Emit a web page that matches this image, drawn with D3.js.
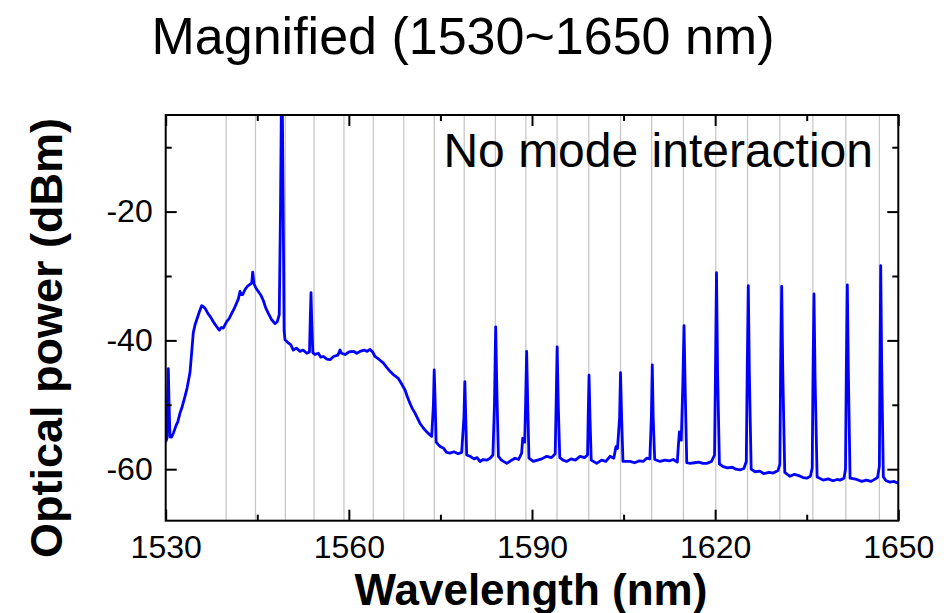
<!DOCTYPE html>
<html>
<head>
<meta charset="utf-8">
<script src="https://cdn.jsdelivr.net/npm/d3@7/dist/d3.min.js"></script>
<style>
  html, body { margin: 0; padding: 0; background: #fff; }
  svg { display: block; font-family: "Liberation Sans", Arial, sans-serif; }
</style>
</head>
<body>
<svg id="chart" width="950" height="613"></svg>
<script>
// Optical spectrum, wavelength (nm) vs power (dBm)
const spectrum = [
  [1530.00,-55.8],[1530.20,-55.2],[1530.33,-48.0],[1530.43,-44.4],[1530.53,-49.0],[1530.70,-55.0],
  [1530.98,-55.0],[1531.30,-54.3],[1531.70,-53.2],[1532.00,-52.6],[1532.34,-51.3],[1532.70,-50.3],
  [1533.16,-48.7],[1533.50,-47.4],[1533.98,-45.0],[1534.20,-42.5],[1534.52,-38.8],[1534.80,-37.6],
  [1535.08,-36.8],[1535.50,-35.6],[1535.90,-34.6],[1536.20,-34.8],[1536.44,-35.0],[1536.90,-35.8],
  [1537.30,-36.3],[1537.80,-37.1],[1538.30,-37.8],[1538.78,-38.4],[1539.10,-38.0],[1539.43,-38.1],
  [1539.99,-37.1],[1540.40,-36.6],[1540.81,-35.8],[1541.30,-34.9],[1541.89,-33.6],[1542.17,-32.4],
  [1542.40,-32.9],[1542.61,-32.9],[1543.00,-32.1],[1543.37,-31.6],[1543.80,-31.3],[1544.09,-31.1],
  [1544.25,-29.4],[1544.46,-31.2],[1544.80,-31.9],[1545.17,-32.4],[1545.60,-33.0],[1545.99,-33.8],
  [1546.40,-35.0],[1546.81,-35.8],[1547.36,-36.8],[1547.90,-37.4],[1548.28,-37.1],[1548.60,-36.0],
  [1548.80,-20.0],[1548.95,-3.0],[1549.10,-3.0],[1549.25,-20.0],[1549.40,-38.5],[1549.54,-39.9],
  [1550.08,-40.4],[1550.50,-40.7],[1550.90,-41.5],[1551.40,-41.2],[1552.00,-41.7],[1552.50,-41.5],
  [1553.10,-42.0],[1553.55,-41.8],[1553.70,-36.0],[1553.80,-32.6],[1553.92,-37.0],[1554.10,-41.9],
  [1554.45,-42.2],[1555.00,-42.0],[1555.40,-42.6],[1555.82,-42.5],[1556.40,-42.9],[1556.91,-43.0],
  [1557.50,-42.5],[1558.20,-42.3],[1558.55,-41.5],[1558.80,-42.0],[1559.37,-42.2],[1560.00,-41.8],
  [1560.73,-41.7],[1561.30,-42.0],[1561.83,-41.7],[1562.50,-41.5],[1563.00,-41.7],[1563.47,-41.4],
  [1563.90,-41.8],[1564.29,-42.5],[1565.00,-43.0],[1565.64,-43.5],[1566.20,-44.2],[1566.74,-44.8],
  [1567.40,-45.4],[1568.10,-45.9],[1568.60,-46.7],[1569.20,-47.7],[1569.60,-48.8],[1570.02,-49.8],
  [1570.40,-50.6],[1570.84,-51.3],[1571.20,-52.0],[1571.66,-52.9],[1572.20,-53.6],[1572.75,-54.2],
  [1573.20,-54.6],[1573.57,-54.9],[1573.85,-50.0],[1573.98,-44.6],[1574.12,-49.0],[1574.30,-55.8],
  [1574.65,-56.2],[1575.00,-56.5],[1575.47,-56.7],[1576.00,-57.4],[1576.57,-57.5],[1577.20,-57.3],
  [1577.90,-57.6],[1578.48,-57.4],[1578.85,-52.0],[1579.00,-46.4],[1579.15,-52.0],[1579.30,-57.8],
  [1579.84,-58.0],[1580.50,-58.4],[1581.00,-58.2],[1581.48,-58.8],[1582.00,-58.5],[1582.60,-58.6],
  [1583.12,-58.3],[1583.60,-57.8],[1583.85,-50.0],[1584.05,-37.9],[1584.25,-48.0],[1584.50,-58.0],
  [1585.00,-58.6],[1585.86,-59.1],[1586.50,-58.7],[1587.22,-58.3],[1587.80,-58.5],[1588.30,-57.5],
  [1588.48,-55.2],[1588.80,-55.8],[1588.95,-50.0],[1589.12,-41.7],[1589.30,-50.0],[1589.50,-58.3],
  [1590.21,-58.8],[1590.90,-58.6],[1591.60,-58.4],[1592.41,-58.0],[1593.20,-58.2],[1593.80,-57.6],
  [1593.95,-50.0],[1594.12,-41.0],[1594.30,-50.0],[1594.55,-58.2],[1595.10,-58.6],[1595.68,-58.8],
  [1596.40,-58.4],[1597.10,-58.6],[1597.86,-58.0],[1598.60,-58.2],[1599.10,-57.8],[1599.20,-52.0],
  [1599.34,-45.4],[1599.50,-52.0],[1599.70,-58.6],[1600.60,-59.1],[1601.40,-58.6],[1602.10,-58.8],
  [1602.78,-58.0],[1603.40,-58.3],[1603.75,-56.5],[1604.00,-56.8],[1604.35,-52.0],[1604.50,-45.0],
  [1604.68,-52.0],[1604.90,-58.8],[1606.05,-58.8],[1606.80,-59.0],[1607.60,-58.7],[1608.20,-58.8],
  [1608.79,-58.3],[1609.30,-58.4],[1609.55,-52.0],[1609.70,-43.8],[1609.85,-52.0],[1610.10,-58.5],
  [1610.97,-58.8],[1611.80,-58.6],[1612.50,-58.7],[1613.15,-58.5],[1613.80,-58.9],[1614.00,-56.0],
  [1614.15,-54.2],[1614.45,-55.5],[1614.70,-47.0],[1614.90,-37.7],[1615.10,-48.0],[1615.35,-59.0],
  [1615.88,-59.1],[1616.60,-59.0],[1617.30,-58.9],[1618.00,-59.1],[1618.62,-59.1],[1619.40,-58.8],
  [1619.90,-57.8],[1620.05,-45.0],[1620.22,-29.5],[1620.40,-45.0],[1620.70,-59.2],[1621.33,-59.6],
  [1622.00,-59.8],[1622.80,-59.7],[1623.40,-60.0],[1624.07,-60.1],[1624.70,-59.9],[1625.10,-58.8],
  [1625.25,-45.0],[1625.43,-31.5],[1625.60,-45.0],[1625.90,-60.0],[1626.53,-60.4],[1627.30,-60.3],
  [1628.00,-60.7],[1628.80,-60.5],[1629.53,-60.6],[1630.30,-60.2],[1630.60,-59.2],[1630.72,-45.0],
  [1630.90,-31.6],[1631.08,-45.0],[1631.40,-60.5],[1632.26,-61.1],[1633.00,-60.8],[1633.70,-61.0],
  [1634.40,-61.3],[1635.00,-61.4],[1635.60,-61.1],[1635.90,-59.8],[1636.02,-46.0],[1636.19,-32.8],
  [1636.37,-46.0],[1636.70,-61.2],[1637.71,-61.7],[1638.50,-61.5],[1639.30,-61.8],[1640.00,-61.6],
  [1640.45,-61.7],[1641.10,-61.4],[1641.35,-60.0],[1641.48,-45.0],[1641.65,-31.4],[1641.82,-45.0],
  [1642.10,-61.4],[1643.19,-61.6],[1644.00,-61.9],[1644.80,-61.7],[1645.50,-61.9],[1645.90,-61.7],
  [1646.60,-61.3],[1646.90,-59.5],[1647.00,-44.0],[1647.12,-28.4],[1647.28,-44.0],[1647.55,-61.2],
  [1648.00,-61.8],[1648.65,-62.0],[1649.30,-61.9],[1649.96,-62.2]
];

// Vertical reference lines (comb grid), nm
const gridLines = [
  1539.9, 1544.7, 1549.6, 1554.3, 1559.2, 1564.0, 1569.0, 1574.0, 1578.9, 1584.0, 1589.0,
  1594.1, 1599.3, 1604.5, 1609.6, 1614.8, 1620.1, 1625.3, 1630.6, 1636.0, 1641.4, 1646.9
];

const xMajorTicks = [1530, 1560, 1590, 1620, 1650];
const xMinorTicks = [1545, 1575, 1605, 1635];
const yMajorTicks = [-60, -40, -20];
const yMinorTicks = [-50, -30, -10];

const titleText = "Magnified (1530~1650 nm)";
const noteText = "No mode interaction";
const xTitle = "Wavelength (nm)";
const yTitle = "Optical power (dBm)";

const svg = d3.select("#chart");
const plotL = 165.7, plotR = 898.3, plotT = 115, plotB = 520.7;

const x = d3.scaleLinear().domain([1530, 1650]).range([plotL, plotR]);
const y = d3.scaleLinear().domain([-68, -5]).range([plotB, plotT]);

// plain hyphen-minus labels
const numLabel = d => String(d);

svg.append("defs").append("clipPath").attr("id", "plotClip")
  .append("rect").attr("x", plotL).attr("y", plotT)
  .attr("width", plotR - plotL).attr("height", plotB - plotT);

// grid
svg.append("g").selectAll("line").data(gridLines).join("line")
  .attr("x1", d => x(d)).attr("x2", d => x(d))
  .attr("y1", plotT).attr("y2", plotB)
  .attr("stroke", "#c8c8c8").attr("stroke-width", 1.3);

// spectrum trace
const line = d3.line().x(d => x(d[0])).y(d => y(d[1]));
svg.append("path").datum(spectrum)
  .attr("clip-path", "url(#plotClip)")
  .attr("d", line)
  .attr("fill", "none")
  .attr("stroke", "#0000ff")
  .attr("stroke-width", 2.8)
  .attr("stroke-linejoin", "round");

function styleAxis(g) {
  g.select(".domain").remove();
  g.selectAll(".tick line").attr("stroke", "#000").attr("stroke-width", 2);
  g.selectAll(".tick text").attr("fill", "#000")
    .style("font-family", "'Liberation Sans', Arial, sans-serif").style("font-size", "32px");
}

// bottom axis
svg.append("g").attr("transform", `translate(0,${plotB})`)
  .call(d3.axisBottom(x).tickValues(xMajorTicks).tickSize(-11).tickPadding(15).tickFormat(numLabel))
  .call(styleAxis);
svg.append("g").attr("transform", `translate(0,${plotB})`)
  .call(d3.axisBottom(x).tickValues(xMinorTicks).tickSize(-6).tickFormat(""))
  .call(styleAxis);
// top axis
svg.append("g").attr("transform", `translate(0,${plotT})`)
  .call(d3.axisTop(x).tickValues(xMajorTicks).tickSize(-11).tickFormat(""))
  .call(styleAxis);
svg.append("g").attr("transform", `translate(0,${plotT})`)
  .call(d3.axisTop(x).tickValues(xMinorTicks).tickSize(-6).tickFormat(""))
  .call(styleAxis);
// left axis
svg.append("g").attr("transform", `translate(${plotL},0)`)
  .call(d3.axisLeft(y).tickValues(yMajorTicks).tickSize(-11).tickPadding(13).tickFormat(numLabel))
  .call(styleAxis);
svg.append("g").attr("transform", `translate(${plotL},0)`)
  .call(d3.axisLeft(y).tickValues(yMinorTicks).tickSize(-6).tickFormat(""))
  .call(styleAxis);
// right axis
svg.append("g").attr("transform", `translate(${plotR},0)`)
  .call(d3.axisRight(y).tickValues(yMajorTicks).tickSize(-11).tickFormat(""))
  .call(styleAxis);
svg.append("g").attr("transform", `translate(${plotR},0)`)
  .call(d3.axisRight(y).tickValues(yMinorTicks).tickSize(-6).tickFormat(""))
  .call(styleAxis);

// frame
svg.append("rect")
  .attr("x", plotL).attr("y", plotT)
  .attr("width", plotR - plotL).attr("height", plotB - plotT)
  .attr("fill", "none").attr("stroke", "#000").attr("stroke-width", 2);

// texts
svg.append("text").attr("x", 463).attr("y", 54)
  .attr("text-anchor", "middle").style("font-size", "52px").text(titleText);

svg.append("text").attr("x", 873).attr("y", 167)
  .attr("text-anchor", "end").style("font-size", "48px").text(noteText);

svg.append("text").attr("x", 531).attr("y", 605)
  .attr("text-anchor", "middle").style("font-size", "44px").style("font-weight", "bold").text(xTitle);

svg.append("text").attr("transform", "translate(62,338) rotate(-90)")
  .attr("text-anchor", "middle").style("font-size", "45px").style("font-weight", "bold").text(yTitle);
</script>
</body>
</html>
